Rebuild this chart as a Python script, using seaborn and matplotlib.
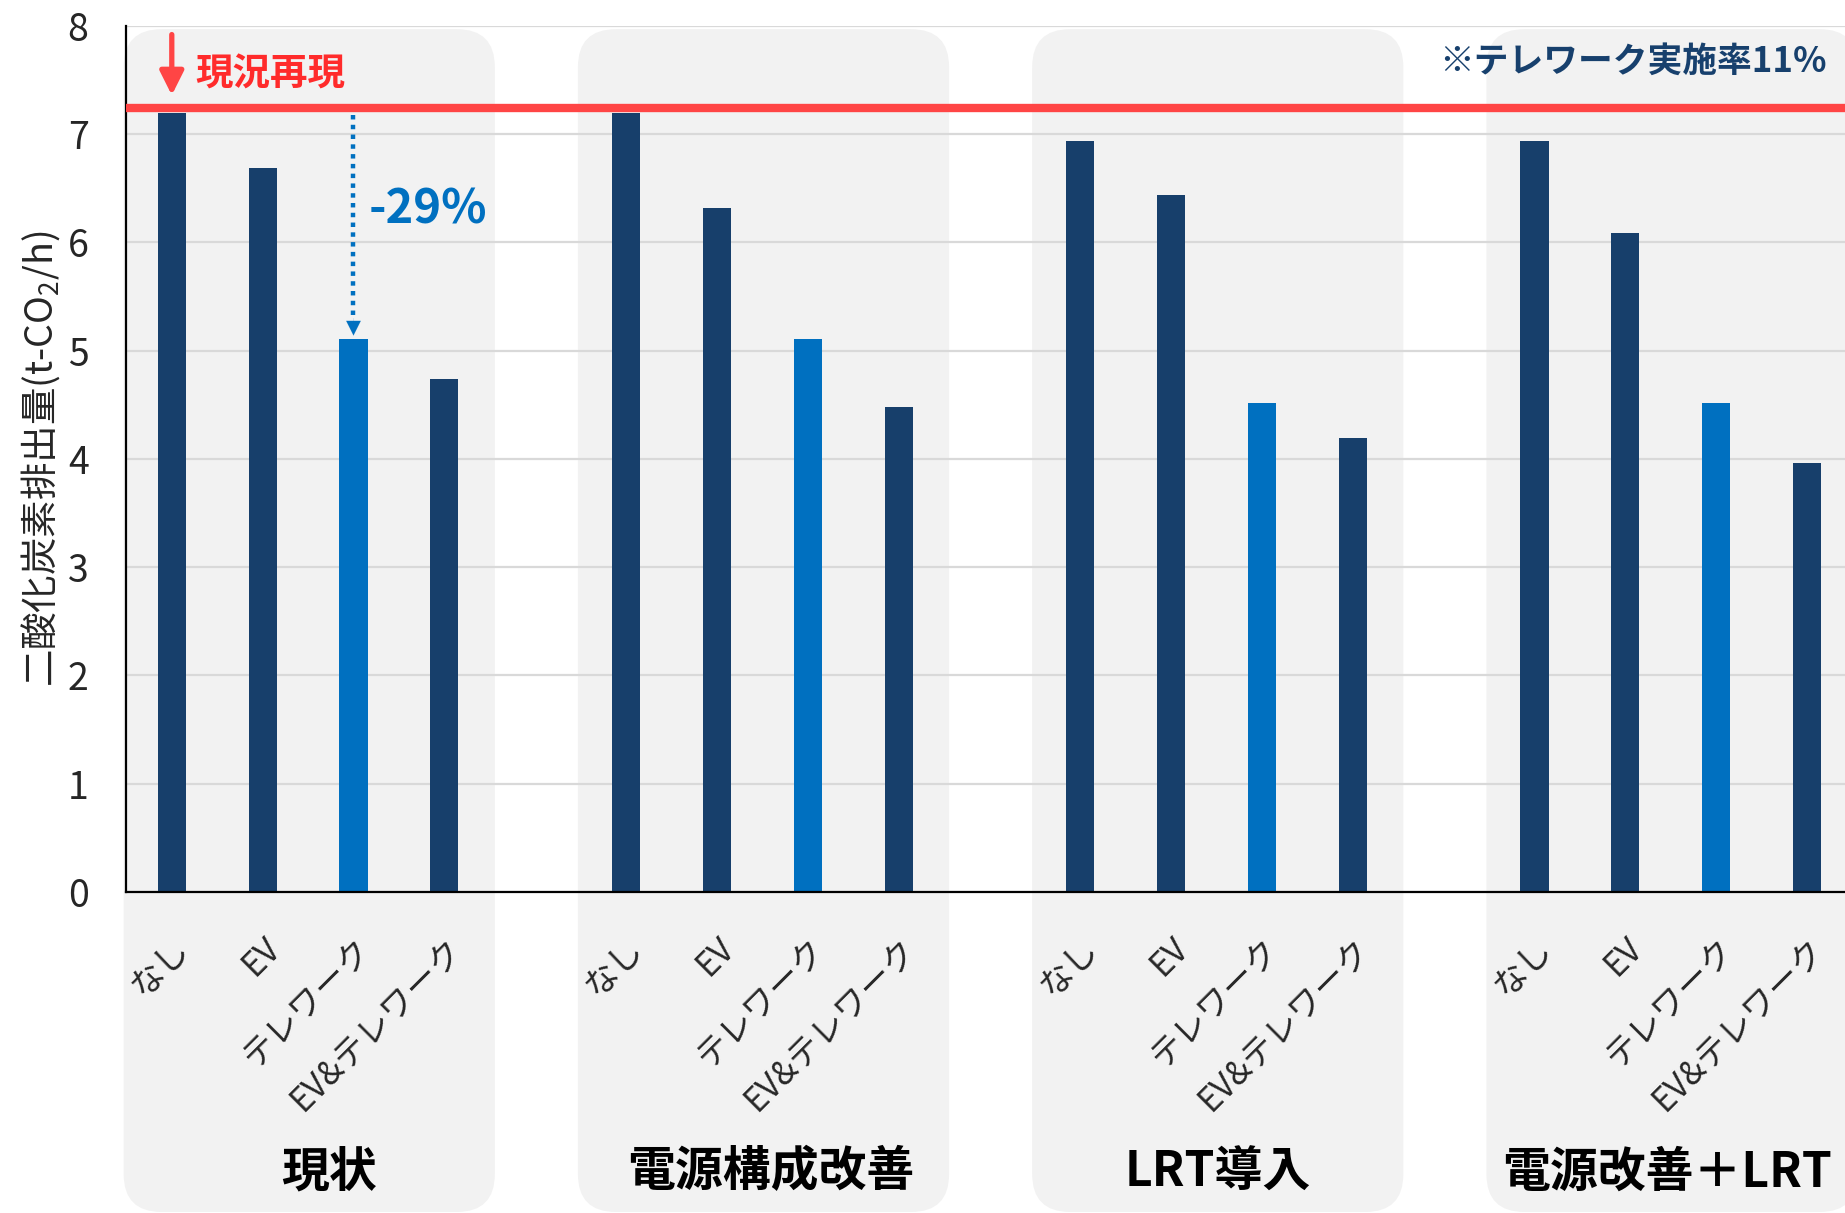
import numpy as np
import pandas as pd
import matplotlib
matplotlib.use("Agg")
import matplotlib.pyplot as plt
from matplotlib.patches import FancyBboxPatch
from matplotlib.transforms import IdentityTransform
import seaborn as sns

# ---------------- data ----------------
groups = ["現状", "電源構成改善", "LRT導入", "電源改善＋LRT"]
scenarios = ["なし", "EV", "テレワーク", "EV&テレワーク"]
genjo = [7.20, 6.69, 5.11, 4.74]
dengen = [7.20, 6.32, 5.11, 4.48]
lrt = [6.94, 6.44, 4.52, 4.19]
dengen_lrt = [6.94, 6.09, 4.52, 3.96]
baseline = 7.24
telework_note = "※テレワーク実施率11%"
baseline_label = "現況再現"
reduction_label = "-29%"
ylabel = "二酸化炭素排出量(t-CO$_2$/h)"

series = [genjo, dengen, lrt, dengen_lrt]

NAVY = "#173F6B"
BLUE = "#0070C0"
RED = "#FF4545"
GRID = "#D9D9D9"
BOXC = "#F2F2F2"

rows = []
for g, (gname, vals) in enumerate(zip(groups, series)):
    for i, (sc, v) in enumerate(zip(scenarios, vals)):
        rows.append({"pos": g * 5 + i, "group": gname, "scenario": sc,
                     "value": v, "kind": "tele" if sc == "テレワーク" else "other"})
df = pd.DataFrame(rows)

# ---------------- style ----------------
sns.set_style("white")
plt.rcParams["font.family"] = ["Noto Sans CJK JP", "DejaVu Sans"]
plt.rcParams["mathtext.fontset"] = "custom"
plt.rcParams["mathtext.rm"] = "Noto Sans CJK JP"

W, H = 1845, 1213
fig = plt.figure(figsize=(W / 100, H / 100), dpi=100)
fig.patch.set_facecolor("white")
ax = fig.add_axes([126 / W, 1 - 892 / H, (W - 126) / W, (892 - 25.9) / H])
ax.set_facecolor("none")

sns.barplot(data=df, x="pos", y="value", hue="kind",
            palette={"other": NAVY, "tele": BLUE}, native_scale=True,
            dodge=False, width=0.31, saturation=1, legend=False,
            linewidth=0, ax=ax, zorder=2)

ax.set_xlim(-0.504, 18.417)
ax.set_ylim(0, 8)
ax.set_yticks(range(0, 9))
ax.yaxis.grid(True, color=GRID, lw=1.6, zorder=0)
ax.xaxis.grid(False)
ax.set_axisbelow(True)
for s in ["top", "right"]:
    ax.spines[s].set_visible(False)
for s in ["left", "bottom"]:
    ax.spines[s].set_color("black")
    ax.spines[s].set_linewidth(1.6)
    ax.spines[s].set_zorder(4)

ax.set_xticks(df["pos"].tolist())
ax.set_xticklabels(df["scenario"].tolist())
ax.tick_params(axis="x", length=0, pad=28, labelsize=24)
ax.tick_params(axis="y", length=0, pad=27, labelsize=27)
for lab in ax.get_xticklabels():
    lab.set_rotation(45)
    lab.set_ha("right")
    lab.set_va("top")
    lab.set_rotation_mode("anchor")
ax.set_xlabel("")
ax.set_ylabel(ylabel, fontsize=27, labelpad=4)

# baseline
ax.axhline(baseline, color=RED, lw=6, zorder=5)

# red arrow + label
ax.annotate("", xy=(0, 7.36), xytext=(0, 7.92),
            arrowprops=dict(arrowstyle="-|>", color=RED, lw=3.8,
                            mutation_scale=36, shrinkA=0, shrinkB=0), zorder=6)
ax.text(0.26, 7.555, baseline_label, color="#FF2B2B", fontsize=27,
        fontweight="bold", ha="left", va="center", zorder=6)

# blue dotted arrow
tele_x = 2
ax.plot([tele_x, tele_x], [baseline - 0.06, 5.3], color=BLUE, lw=3.2,
        ls=(0, (1, 1.2)), zorder=6, solid_capstyle="butt")
ax.annotate("", xy=(tele_x, genjo[2] + 0.03), xytext=(tele_x, 5.3),
            arrowprops=dict(arrowstyle="-|>", color=BLUE, lw=0.1,
                            mutation_scale=26, shrinkA=0, shrinkB=0), zorder=6)
ax.text(tele_x + 0.17, 6.30, reduction_label, color=BLUE, fontsize=34,
        fontweight="bold", ha="left", va="center", zorder=6)

# note
fig.text(1827 / W, 1 - 61 / H, telework_note, color="#17406D", fontsize=25,
         fontweight="bold", ha="right", va="center")

# group background boxes and labels
label_shift = [0.22, 0.08, 0.0, -0.05]
fig.canvas.draw()
for g, gname in enumerate(groups):
    x0 = g * 5 - 0.53
    x1 = g * 5 + 3.556
    (px0, py_top) = ax.transData.transform((x0, 7.97))
    (px1, _) = ax.transData.transform((x1, 7.97))
    py_bot = 1
    box = FancyBboxPatch((px0, py_bot), px1 - px0, py_top - py_bot,
                         boxstyle="round,pad=0,rounding_size=38",
                         transform=IdentityTransform(), facecolor=BOXC,
                         edgecolor="none", zorder=-1)
    fig.add_artist(box)
    cx = (x0 + x1) / 2 + label_shift[g]
    pcx, _ = ax.transData.transform((cx, 0))
    fig.text(pcx / W, 1 - 1172 / H, gname, fontsize=34.5, fontweight="bold",
             ha="center", va="center", color="black")

fig.savefig("out.png", dpi=100, facecolor="white")
